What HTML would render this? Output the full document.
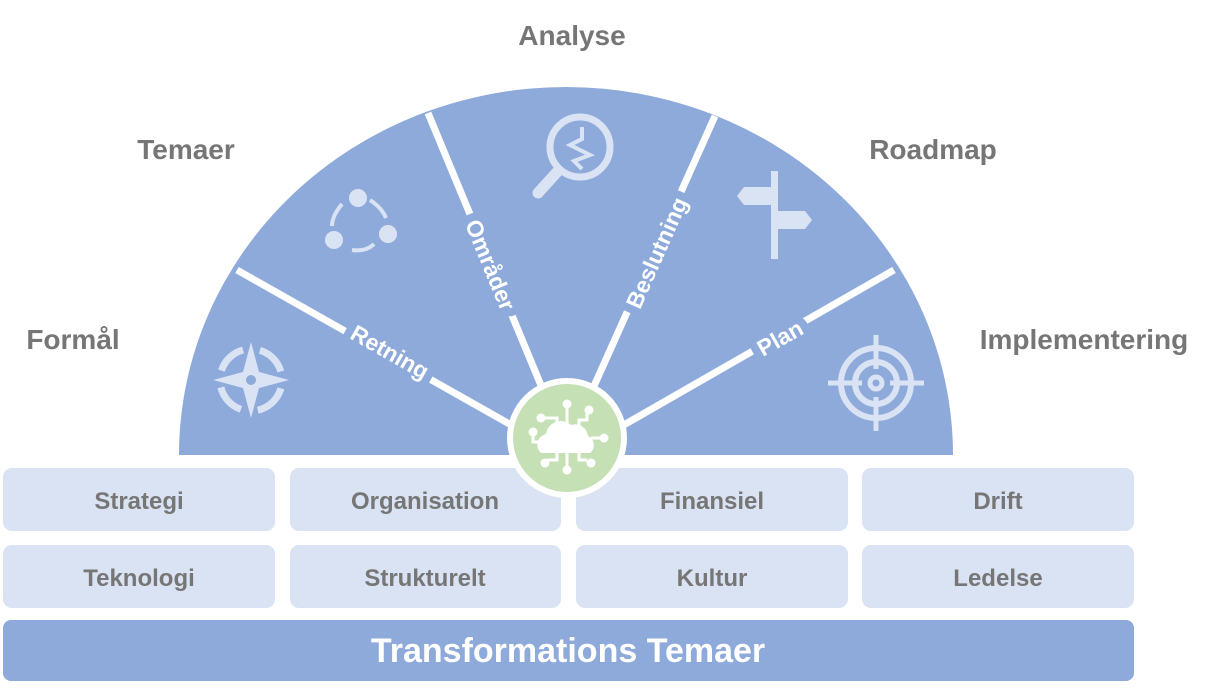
<!DOCTYPE html>
<html><head><meta charset="utf-8"><style>
html,body{margin:0;padding:0;background:#fff;width:1224px;height:700px;overflow:hidden}
svg{display:block}
text{font-family:"Liberation Sans",sans-serif;font-weight:bold}
</style></head><body>
<svg width="1224" height="700" viewBox="0 0 1224 700" xmlns="http://www.w3.org/2000/svg">
<g fill="#767676" font-size="28" text-anchor="middle">
<text x="572" y="45">Analyse</text>
<text x="186" y="159">Temaer</text>
<text x="933" y="159">Roadmap</text>
<text x="73" y="349">Formål</text>
<text x="1084" y="349">Implementering</text>
</g>
<path d="M179 455 A387 368 0 0 1 953 455 Z" fill="#8eaadb"/>
<g stroke="#fff" stroke-width="7">
<line x1="237" y1="270" x2="520" y2="430"/>
<line x1="428" y1="113" x2="545" y2="395"/>
<line x1="715" y1="116" x2="590" y2="395"/>
<line x1="894" y1="270" x2="615" y2="430"/>
</g>
<g font-size="23" fill="#fff" stroke="#8eaadb" stroke-width="16" paint-order="stroke" text-anchor="middle" stroke-linejoin="round">
<text transform="translate(386,359) rotate(29.5)">Retning</text>
<text transform="translate(483,268) rotate(67.6)">Områder</text>
<text transform="translate(664,256) rotate(-66)">Beslutning</text>
<text transform="translate(784,345) rotate(-29.5)">Plan</text>
</g>
<g fill="#dae3f3" stroke="#dae3f3">
<g transform="translate(251,380)">
<circle r="31" fill="none" stroke-width="7" stroke-dasharray="31 17" transform="rotate(20)"/>
<polygon points="0,-38 8,-8 38,0 8,8 0,38 -8,8 -38,0 -8,-8" stroke="none"/>
<circle r="5" fill="#8eaadb" stroke="none"/>
</g>
<g transform="translate(358,222)">
<circle cx="0" cy="-24" r="9" stroke="none"/>
<circle cx="-24" cy="18" r="9" stroke="none"/>
<circle cx="30" cy="12" r="9" stroke="none"/>
<path d="M12 -22 Q24 -14 28 -4 M-16 -18 Q-26 -6 -26 4 M16 22 Q8 30 -6 28" fill="none" stroke-width="4"/>
</g>
<g transform="translate(580,147)">
<circle r="30" fill="none" stroke-width="7"/>
<path d="M-22 24 L-42 46" stroke-width="11" stroke-linecap="round"/>
<path d="M2 -20 L2 -8 L-10 -2 L10 8 L-6 14 L2 22" fill="none" stroke-width="4"/>
</g>
<g transform="translate(774,215)" stroke="none">
<rect x="-3" y="-44" width="7" height="88"/>
<polygon points="-3,-28 -30,-28 -37,-19 -30,-10 -3,-10"/>
<polygon points="4,-4 31,-4 38,5 31,14 4,14"/>
</g>
<g transform="translate(876,383)" fill="none">
<circle r="35" stroke-width="6"/>
<circle r="21" stroke-width="6"/>
<circle r="6" stroke-width="5"/>
<path d="M0 -48 V-14 M0 14 V48 M-48 0 H-14 M14 0 H48" stroke-width="5"/>
</g>
</g>
<g fill="#dae3f3">
<rect x="3" y="468" width="272" height="63" rx="9"/>
<rect x="290" y="468" width="271" height="63" rx="9"/>
<rect x="576" y="468" width="272" height="63" rx="9"/>
<rect x="862" y="468" width="272" height="63" rx="9"/>
<rect x="3" y="545" width="272" height="63" rx="9"/>
<rect x="290" y="545" width="271" height="63" rx="9"/>
<rect x="576" y="545" width="272" height="63" rx="9"/>
<rect x="862" y="545" width="272" height="63" rx="9"/>
</g>
<circle cx="567" cy="438" r="60" fill="#fff"/>
<circle cx="567" cy="438" r="54" fill="#c5e0b4"/>
<g transform="translate(567,438)" fill="#fff" stroke="#fff">
<path d="M-26 15 A11 11 0 0 1 -21 -4 A15 15 0 0 1 4 -13 A13 13 0 0 1 21 -2 A10 10 0 0 1 23 15 Z" stroke="none"/>
<g fill="none" stroke-width="3">
<path d="M0 -14 V-32 M-10 -10 V-20 H-22 M12 -10 V-18 H20 V-25 M24 0 H34 M-26 4 H-34 V-4 M0 14 V30 M-10 14 V22 H-20 M12 14 V22 H20"/>
</g>
<g stroke="none">
<circle cx="0" cy="-34" r="4.5"/><circle cx="-26" cy="-20" r="4.5"/><circle cx="22" cy="-28" r="4.5"/>
<circle cx="37" cy="0" r="4.5"/><circle cx="-34" cy="-6" r="4.5"/><circle cx="0" cy="32" r="4.5"/>
<circle cx="-22" cy="25" r="4.5"/><circle cx="24" cy="25" r="4.5"/>
</g>
</g>
<g fill="#767676" font-size="24" text-anchor="middle">
<text x="139" y="509">Strategi</text>
<text x="425" y="509">Organisation</text>
<text x="712" y="509">Finansiel</text>
<text x="998" y="509">Drift</text>
<text x="139" y="586">Teknologi</text>
<text x="425" y="586">Strukturelt</text>
<text x="712" y="586">Kultur</text>
<text x="998" y="586">Ledelse</text>
</g>
<rect x="3" y="620" width="1131" height="61" rx="8" fill="#8eaadb"/>
<text x="568" y="662" fill="#fff" font-size="34" text-anchor="middle">Transformations Temaer</text>
</svg>
</body></html>
